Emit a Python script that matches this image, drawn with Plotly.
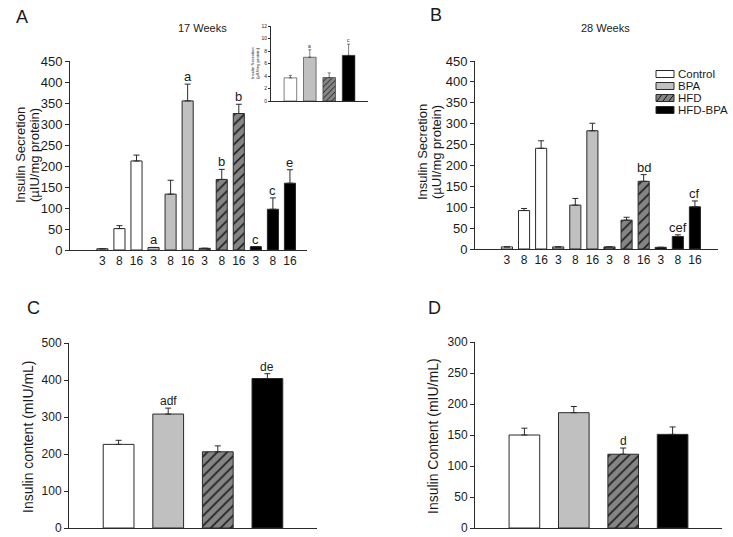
import plotly.graph_objects as go

# ---------------- data ----------------
groups = ["Control", "BPA", "HFD", "HFD-BPA"]
doses = ["3", "8", "16"]

# Panel A: 17 weeks insulin secretion (uIU/mg protein)
a_mean = {"Control": [3, 51, 212], "BPA": [6, 133, 355], "HFD": [4, 168, 325], "HFD-BPA": [8, 97, 159]}
a_err = {"Control": [0, 7, 14], "BPA": [0, 33, 40], "HFD": [0, 24, 22], "HFD-BPA": [0, 27, 32]}
a_letters = {"Control": ["", "", ""], "BPA": ["a", "", "a"], "HFD": ["", "b", "b"], "HFD-BPA": ["c", "c", "e"]}

# Panel A inset
inset_mean = [3.7, 7.0, 3.75, 7.3]
inset_err = [0.4, 1.2, 0.75, 1.8]
inset_letters = ["", "a", "", "c"]

# Panel B: 28 weeks insulin secretion
b_mean = {"Control": [5, 92, 241], "BPA": [5, 105, 283], "HFD": [5, 69, 162], "HFD-BPA": [4, 30, 101]}
b_err = {"Control": [0, 5, 18], "BPA": [0, 16, 18], "HFD": [0, 7, 16], "HFD-BPA": [0, 4, 14]}
b_letters = {"Control": ["", "", ""], "BPA": ["", "", ""], "HFD": ["", "", "bd"], "HFD-BPA": ["", "cef", "cf"]}

# Panel C: insulin content 17 weeks (mIU/mL)
c_mean = [226, 308, 206, 404]
c_err = [11, 16, 16, 13]
c_letters = ["", "adf", "", "de"]

# Panel D: insulin content 28 weeks (mIU/mL)
d_mean = [150, 186, 119, 151]
d_err = [11, 10, 10, 12]
d_letters = ["", "", "d", ""]

# ---------------- styles ----------------
W, H = 733, 537
FONT = "Liberation Sans, Arial, sans-serif"
TXT = "#1a1a1a"
LINE = "#2a2a2a"


def px(x):
    return x / W


def py(y):
    return 1 - y / H


def marker_for(g, lw=1.0, psize=7):
    m = dict(line=dict(color=LINE, width=lw))
    if g == "Control":
        m["color"] = "white"
    elif g == "BPA":
        m["color"] = "#c0c0c0"
    elif g == "HFD":
        m["color"] = "#858585"
        m["pattern"] = dict(shape="/", fgcolor="#111111", bgcolor="#858585",
                            size=psize, solidity=0.22, fillmode="replace")
    else:
        m["color"] = "black"
    return m


fig = go.Figure()


def err(arr, thick=1, w=3):
    return dict(type="data", symmetric=False, array=arr, arrayminus=[0] * len(arr),
                color=LINE, thickness=thick, width=w)


def add_dose_panel(means, errs, letters, xa, ya, fsize):
    n = len(doses)
    for gi, g in enumerate(groups):
        xs = [gi * n + di for di in range(n)]
        fig.add_trace(go.Bar(x=xs, y=means[g], width=0.65, marker=marker_for(g),
                             error_y=err(errs[g]), xaxis=xa, yaxis=ya,
                             showlegend=False, hoverinfo="skip"))
        for x, y, e, t in zip(xs, means[g], errs[g], letters[g]):
            if t:
                fig.add_annotation(x=x, y=y + e, text=t, xref=xa, yref=ya,
                                   yanchor="bottom", showarrow=False, yshift=-2,
                                   font=dict(size=fsize, color=TXT, family=FONT))


def add_group_panel(means, errs, letters, xa, ya, fsize, lw=1.0, thick=1, ew=3, psize=7):
    for gi, g in enumerate(groups):
        fig.add_trace(go.Bar(x=[gi], y=[means[gi]], width=0.62 if xa != "x5" else 0.65,
                             marker=marker_for(g, lw, psize),
                             error_y=err([errs[gi]], thick, ew), xaxis=xa, yaxis=ya,
                             showlegend=False, hoverinfo="skip"))
        if letters[gi]:
            fig.add_annotation(x=gi, y=means[gi] + errs[gi], text=letters[gi], xref=xa, yref=ya,
                               yanchor="bottom", showarrow=False, yshift=-2 if fsize > 6 else -1,
                               font=dict(size=fsize, color=TXT, family=FONT))


add_dose_panel(a_mean, a_err, a_letters, "x", "y", 13)
add_dose_panel(b_mean, b_err, b_letters, "x2", "y2", 13)
add_group_panel(c_mean, c_err, c_letters, "x3", "y3", 12)
add_group_panel(d_mean, d_err, d_letters, "x4", "y4", 12)
add_group_panel(inset_mean, inset_err, inset_letters, "x5", "y5", 5, lw=0.6, thick=0.6, ew=1.5, psize=4)


def yax(dom, rng, dtick, fsize, anchor, ticklen=4):
    return dict(domain=dom, range=rng, dtick=dtick, tick0=0, showline=True, linecolor=LINE,
                linewidth=1, ticks="outside", ticklen=ticklen, tickcolor=LINE, tickwidth=1,
                showgrid=False, zeroline=False, anchor=anchor, fixedrange=True, automargin=False,
                tickfont=dict(size=fsize, color=TXT, family=FONT))


def xax(dom, rng, anchor, tickvals=None, ticktext=None, fsize=12):
    d = dict(domain=dom, range=rng, showline=True, linecolor=LINE, linewidth=1, ticks="",
             showgrid=False, zeroline=False, anchor=anchor, fixedrange=True, automargin=False,
             tickfont=dict(size=fsize, color=TXT, family=FONT))
    if tickvals is not None:
        d.update(tickmode="array", tickvals=tickvals, ticktext=ticktext)
    else:
        d.update(showticklabels=False)
    return d


nd = len(groups) * len(doses)
dose_vals = list(range(nd))
dose_text = doses * len(groups)

fig.update_layout(
    width=W, height=H, autosize=False,
    margin=dict(l=0, r=0, t=0, b=0, pad=0),
    paper_bgcolor="white", plot_bgcolor="rgba(0,0,0,0)",
    barmode="overlay", showlegend=False,
    font=dict(family=FONT, color=TXT),
    xaxis=xax([px(70), px(307)], [-1.9, 12.0], "y", dose_vals, dose_text, 12),
    yaxis=yax([py(250), py(61)], [0, 450], 50, 13, "x"),
    xaxis2=xax([px(475), px(718)], [-1.87, 12.35], "y2", dose_vals, dose_text, 12),
    yaxis2=yax([py(249), py(61)], [0, 450], 50, 13, "x2"),
    xaxis3=xax([px(69), px(317)], [-1, 4], "y3"),
    yaxis3=yax([py(528), py(343)], [0, 500], 100, 12, "x3"),
    xaxis4=xax([px(475), px(722)], [-1, 4], "y4"),
    yaxis4=yax([py(528), py(342)], [0, 300], 50, 12, "x4"),
    xaxis5=xax([px(271), px(368)], [-1, 4], "y5"),
    yaxis5=yax([py(101), py(26)], [0, 12], 2, 5, "x5", ticklen=2),
)


def txt(x, y, s, size, angle=0, xanchor="center"):
    fig.add_annotation(x=px(x), y=py(y), xref="paper", yref="paper", text=s, showarrow=False,
                       textangle=angle, xanchor=xanchor, yanchor="middle",
                       font=dict(size=size, color=TXT, family=FONT))


# panel letters and titles
txt(22, 17, "A", 18)
txt(436, 15, "B", 18)
txt(33, 308, "C", 18)
txt(435, 308, "D", 18)
txt(202, 28, "17 Weeks", 11)
txt(605, 28, "28 Weeks", 11)

# y-axis titles
txt(21, 155, "Insulin Secretion", 13, -90)
txt(35, 155, "(µIU/mg protein)", 13, -90)
txt(423, 152, "Insulin Secretion", 13, -90)
txt(437, 152, "(µUI/mg protein)", 13, -90)
txt(28, 437, "Insulin content (mIU/mL)", 14, -90)
txt(433, 436, "Insulin Content (mIU/mL)", 14, -90)
txt(252, 63, "Insulin Secretion", 4.3, -90)
txt(257, 63, "(µIU/mg protein)", 4.3, -90)

# manual legend
leg_rows = [74, 86, 98, 110]
leg_fill = {"Control": "white", "BPA": "#c0c0c0", "HFD": "#858585", "HFD-BPA": "black"}
for g, yc in zip(groups, leg_rows):
    fig.add_shape(type="rect", xref="paper", yref="paper", x0=px(656), x1=px(674),
                  y0=py(yc + 3.5), y1=py(yc - 3.5), fillcolor=leg_fill[g],
                  line=dict(color=LINE, width=1))
    if g == "HFD":
        for x0 in (658, 664, 670):
            fig.add_shape(type="line", xref="paper", yref="paper", x0=px(x0 - 1), y0=py(yc + 3),
                          x1=px(x0 + 3.5), y1=py(yc - 3), line=dict(color="#111", width=1))
    fig.add_annotation(x=px(677), y=py(yc), xref="paper", yref="paper", text=g, showarrow=False,
                       xanchor="left", yanchor="middle", borderpad=0,
                       font=dict(size=11.5, color=TXT, family=FONT))

fig.write_html("out.html", config={"displayModeBar": False, "staticPlot": True},
               post_script="document.body.style.margin='0';document.body.style.overflow='hidden';")
